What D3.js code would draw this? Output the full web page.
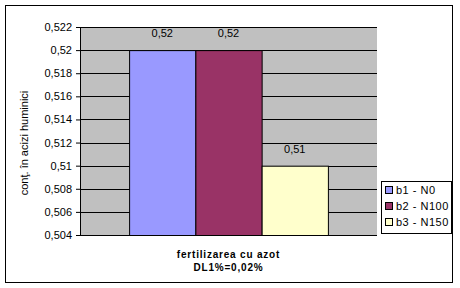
<!DOCTYPE html>
<html><head><meta charset="utf-8">
<script src="https://cdn.jsdelivr.net/npm/d3@7"></script>
<style>body{margin:0;background:#fff}svg{display:block}text{font-family:Arial,"Liberation Sans",sans-serif;fill:#000}</style>
</head><body>
<svg id="c" width="460" height="288"></svg>
<script>
const categories = ["fertilizarea cu azot"];
const seriesNames = ["b1 - N0", "b2 - N100", "b3 - N150"];
const seriesValues = [0.52, 0.52, 0.51];
const seriesLabels = ["0,52", "0,52", "0,51"];
const seriesColors = ["#9999ff", "#993366", "#ffffcc"];
const yTicks = [0.504, 0.506, 0.508, 0.51, 0.512, 0.514, 0.516, 0.518, 0.52, 0.522];
const yTitle = "conţ. în acizi huminici";
const xTitle2 = "DL1%=0,02%";

const svg = d3.select("#c");
svg.append("rect").attr("x",5.5).attr("y",5.5).attr("width",447).attr("height",277)
  .attr("fill","#fff").attr("stroke","#000");

const L = 80, R = 377, T = 27, B = 235;
const y = d3.scaleLinear().domain([0.504, 0.522]).range([B, T]);
const x0 = d3.scaleBand().domain(categories).range([L, R]).paddingInner(0).paddingOuter(0.247);
const x1 = d3.scaleBand().domain(seriesNames).range([0, x0.bandwidth()]);

svg.append("rect").attr("x",L).attr("y",T).attr("width",R-L).attr("height",B-T).attr("fill","#c0c0c0");

const fmt = v => String(+v.toFixed(3)).replace(".", ",");
const yAxis = d3.axisLeft(y).tickValues(yTicks).tickSize(4).tickPadding(3).tickFormat(fmt);
const ga = svg.append("g").attr("transform",`translate(${L},0)`).call(yAxis);
ga.select(".domain").remove();
ga.selectAll("line").attr("stroke","#000");
ga.selectAll("text").attr("font-size",11).attr("fill","#000").attr("dx",-1);
// gridlines
svg.append("g").selectAll("line").data(yTicks.slice(1)).join("line")
  .attr("x1",L).attr("x2",R).attr("y1",d=>Math.round(y(d))+0.5).attr("y2",d=>Math.round(y(d))+0.5)
  .attr("stroke","#000");
svg.append("line").attr("x1",L+0.5).attr("x2",L+0.5).attr("y1",T).attr("y2",B).attr("stroke","#000");
svg.append("line").attr("x1",L).attr("x2",R).attr("y1",B+0.5).attr("y2",B+0.5).attr("stroke","#000");

const g = svg.append("g").attr("transform",`translate(${x0(categories[0])},0)`);
seriesNames.forEach((s,i)=>{
  g.append("rect").attr("x",x1(s)+0.5).attr("y",y(seriesValues[i])+0.5)
    .attr("width",x1.bandwidth()).attr("height",B - y(seriesValues[i]))
    .attr("fill",seriesColors[i]).attr("stroke","#000");
  g.append("text").attr("x",x1(s)+x1.bandwidth()/2).attr("y",y(seriesValues[i])-13)
    .attr("text-anchor","middle").attr("font-size",11).text(seriesLabels[i]);
});

svg.append("text").attr("x",(L+R)/2).attr("y",258).attr("text-anchor","middle")
  .attr("font-size",10).attr("font-weight","bold").attr("fill","#000")
  .style("letter-spacing","0.8px").text(categories[0]);
svg.append("text").attr("x",(L+R)/2).attr("y",271).attr("text-anchor","middle")
  .attr("font-size",10).attr("font-weight","bold").attr("fill","#000")
  .style("letter-spacing","0.8px").text(xTitle2);

svg.append("text").attr("transform","translate(28,143) rotate(-90)").attr("text-anchor","middle")
  .attr("font-size",11).text(yTitle);

const lg = svg.append("g").attr("transform","translate(381,181)");
lg.append("rect").attr("x",0.5).attr("y",0.5).attr("width",70).attr("height",52).attr("fill","#fff").attr("stroke","#000");
seriesNames.forEach((s,i)=>{
  lg.append("rect").attr("x",4.5).attr("y",5.5+i*16).attr("width",7).attr("height",7)
    .attr("fill",seriesColors[i]).attr("stroke","#000");
  lg.append("text").attr("x",15).attr("y",13+i*16).attr("font-size",11).style("letter-spacing","0.5px").text(s);
});
</script>
</body></html>
